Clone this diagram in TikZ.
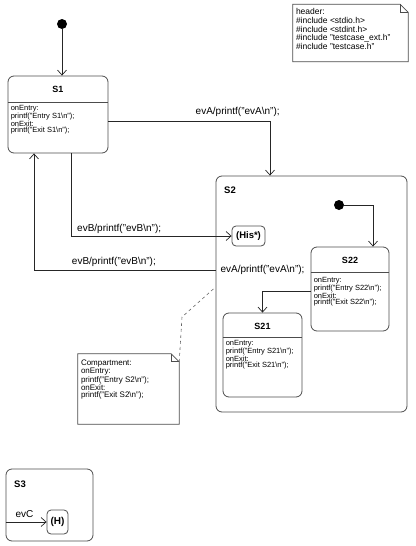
\documentclass[tikz,border=0pt]{standalone}
\usepackage{fontspec}
\setmainfont{Liberation Sans}
\usetikzlibrary{arrows.meta, positioning, calc}
\newcommand{\bsl}{\textbackslash}

\begin{document}
\begin{tikzpicture}[x=1pt, y=-1pt,
    state/.style={draw=black!70, line width=0.8pt, rounded corners=6pt},
    pseudo/.style={draw=black!70, line width=0.8pt, rounded corners=4pt, inner sep=0pt, font=\bfseries\fontsize{9.5}{11}\selectfont},
    title/.style={inner sep=0pt, font=\bfseries\fontsize{9}{11}\selectfont},
    sep/.style={draw=black!70, line width=0.8pt},
    body/.style={anchor=north west, align=left, inner sep=0pt, font=\fontsize{7.5}{6.3}\selectfont},
    notetext/.style={anchor=north west, align=left, inner sep=0pt, font=\fontsize{8}{6.9}\selectfont},
    lbl/.style={inner sep=1pt, font=\fontsize{10}{12}\selectfont},
    trans/.style={draw=black!85, line width=0.7pt, -{Straight Barb[length=5pt, width=9pt]}},
    init/.style={circle, fill=black, minimum size=10pt, inner sep=0pt},
    notebox/.style={draw=black!70, line width=0.7pt},
    link/.style={draw=black!60, line width=0.6pt, dashed}]
    \useasboundingbox (0,0) rectangle (415,546);

    % header note
    \node[minimum width=115pt, minimum height=57pt, inner sep=0pt] (hdr) at (350.5,33) {};
    \draw[notebox] (hdr.north west) -- ([xshift=-8pt]hdr.north east) -- ([yshift=-8pt]hdr.north east)
        -- (hdr.south east) -- (hdr.south west) -- cycle;
    \draw[notebox] ([xshift=-8pt]hdr.north east) |- ([yshift=-8pt]hdr.north east);
    \node[notetext, font=\fontsize{8.5}{8.7}\selectfont] (hdrtext) at ([xshift=3pt, yshift=-4pt]hdr.north west)
        {header:\\\#include <stdio.h>\\\#include <stdint.h>\\\#include "testcase\_ext.h"\\\#include "testcase.h"};

    % S1
    \node[init] (i1) at (62,24) {};
    \node[state, minimum width=100pt, minimum height=77pt] (s1) at (58,114.5) {};
    \node[title] (s1t) at (58,89) {S1};
    \draw[sep] ([yshift=-26.5pt]s1.north west) -- ([yshift=-26.5pt]s1.north east);
    \node[body] (s1b) at ([xshift=3pt, yshift=-29.5pt]s1.north west)
        {onEntry:\\printf("Entry S1\bsl n");\\onExit:\\printf("Exit S1\bsl n");};

    % S2 and its substates
    \node[state, minimum width=191pt, minimum height=236pt] (s2) at (311.5,294) {};
    \node[title, anchor=west, font=\bfseries\fontsize{9.5}{11}\selectfont] (s2t) at (224,190) {S2};
    \node[pseudo, minimum width=33pt, minimum height=20pt] (his) at (248.5,236) {(His*)};
    \node[init] (i2) at (339,205) {};

    \node[state, minimum width=78pt, minimum height=84pt] (s22) at (350,289) {};
    \node[title] (s22t) at (350,260) {S22};
    \draw[sep] ([yshift=-26pt]s22.north west) -- ([yshift=-26pt]s22.north east);
    \node[body] (s22b) at ([xshift=3pt, yshift=-30.5pt]s22.north west)
        {onEntry:\\printf("Entry S22\bsl n");\\onExit:\\printf("Exit S22\bsl n");};

    \node[state, minimum width=79pt, minimum height=84pt] (s21) at (262.5,355) {};
    \node[title] (s21t) at (262.5,326) {S21};
    \draw[sep] ([yshift=-25pt]s21.north west) -- ([yshift=-25pt]s21.north east);
    \node[body] (s21b) at ([xshift=3pt, yshift=-27.5pt]s21.north west)
        {onEntry:\\printf("Entry S21\bsl n");\\onExit:\\printf("Exit S21\bsl n");};

    % compartment note
    \node[minimum width=101pt, minimum height=70pt, inner sep=0pt] (cmp) at (128.5,389) {};
    \draw[notebox] (cmp.north west) -- ([xshift=-8pt]cmp.north east) -- ([yshift=-8pt]cmp.north east)
        -- (cmp.south east) -- (cmp.south west) -- cycle;
    \draw[notebox] ([xshift=-8pt]cmp.north east) |- ([yshift=-8pt]cmp.north east);
    \node[notetext] (cmptext) at ([xshift=3pt, yshift=-6pt]cmp.north west)
        {Compartment:\\onEntry:\\printf("Entry S2\bsl n");\\onExit:\\printf("Exit S2\bsl n");};
    \coordinate (nbend) at (182,317);
    \draw[link] ([yshift=-8pt]cmp.north east) -- (nbend) -- ([yshift=7pt]s2.west);

    % S3
    \node[state, minimum width=87pt, minimum height=72pt] (s3) at (49.5,505) {};
    \node[title, anchor=west, font=\bfseries\fontsize{9.5}{11}\selectfont] (s3t) at (14,484) {S3};
    \node[pseudo, minimum width=21pt, minimum height=24pt, font=\bfseries\fontsize{10}{12}\selectfont] (h) at (57.5,522) {(H)};

    % transitions
    \draw[trans] (i1) -- (i1 |- s1.north);
    \draw[trans] ([yshift=-7pt]s1.east) -| node[lbl, above=4pt, pos=0.4] {evA/printf("evA\bsl n");} ([xshift=-41.5pt]s2.north);
    \draw[trans] ([xshift=13pt]s1.south) |- node[lbl, above=1.5pt, pos=0.65] {evB/printf("evB\bsl n");} (his.west);
    \draw[trans] ([yshift=24pt]s2.west) -| node[lbl, above=2.5pt, pos=0.28] {evB/printf("evB\bsl n");} ([xshift=-24pt]s1.south);
    \draw[trans] (i2) -| ([xshift=23pt]s22.north);
    \draw[trans] ([yshift=-2pt]s22.west) -| (s21.north);
    \node[lbl] (evalbl) at (262.5,270) {evA/printf("evA\bsl n");};
    \draw[trans] (s3.west |- h.west) -- node[lbl, above=3pt, pos=0.46] {evC} (h.west);
\end{tikzpicture}
\end{document}
